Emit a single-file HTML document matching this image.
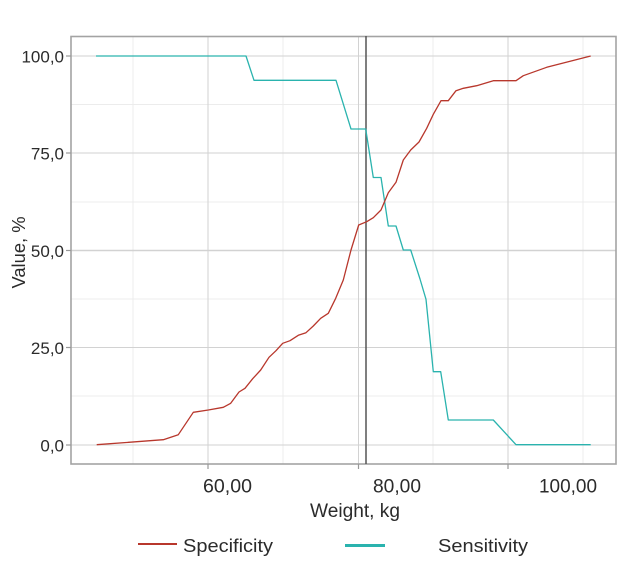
<!DOCTYPE html>
<html>
<head>
<meta charset="utf-8">
<style>
  html, body { margin: 0; padding: 0; background: #ffffff; }
  body { width: 644px; height: 570px; overflow: hidden; }
  svg { display: block; font-family: "Liberation Sans", Arial, sans-serif; }
</style>
</head>
<body>
<svg width="644" height="570" viewBox="0 0 644 570" xmlns="http://www.w3.org/2000/svg">
  <rect x="0" y="0" width="644" height="570" fill="#ffffff"/>

  <!-- minor horizontal gridlines -->
  <g stroke="#ececec" stroke-width="1">
    <line x1="71" y1="104.5" x2="616" y2="104.5"/>
    <line x1="71" y1="202" x2="616" y2="202"/>
    <line x1="71" y1="299" x2="616" y2="299"/>
    <line x1="71" y1="396" x2="616" y2="396"/>
  </g>
  <!-- minor vertical gridlines -->
  <g stroke="#ececec" stroke-width="1">
    <line x1="133" y1="36" x2="133" y2="464"/>
    <line x1="283" y1="36" x2="283" y2="464"/>
    <line x1="433" y1="36" x2="433" y2="464"/>
    <line x1="583" y1="36" x2="583" y2="464"/>
  </g>
  <!-- major gridlines -->
  <g stroke="#d2d2d2" stroke-width="1">
    <line x1="71" y1="56" x2="616" y2="56"/>
    <line x1="71" y1="153" x2="616" y2="153"/>
    <line x1="71" y1="250.5" x2="616" y2="250.5" stroke-width="1.6"/>
    <line x1="71" y1="347.5" x2="616" y2="347.5"/>
    <line x1="71" y1="445" x2="616" y2="445"/>
    <line x1="208" y1="36" x2="208" y2="464"/>
    <line x1="358.5" y1="36" x2="358.5" y2="464"/>
    <line x1="508" y1="36" x2="508" y2="464"/>
  </g>

  <!-- frame -->
  <rect x="71" y="36.5" width="545" height="427.5" fill="none" stroke="#a3a3a3" stroke-width="1.6"/>

  <!-- ticks -->
  <g stroke="#999" stroke-width="1.2">
    <line x1="66" y1="56" x2="71" y2="56"/>
    <line x1="66" y1="153" x2="71" y2="153"/>
    <line x1="66" y1="250.5" x2="71" y2="250.5"/>
    <line x1="66" y1="347.5" x2="71" y2="347.5"/>
    <line x1="66" y1="445" x2="71" y2="445"/>
    <line x1="208" y1="464" x2="208" y2="469"/>
    <line x1="358.5" y1="464" x2="358.5" y2="469"/>
    <line x1="508" y1="464" x2="508" y2="469"/>
  </g>

  <!-- threshold line -->
  <line x1="366" y1="36" x2="366" y2="464" stroke="#555555" stroke-width="1.5"/>

  <!-- Sensitivity -->
  <polyline fill="none" stroke="#2ab3ae" stroke-width="1.3" stroke-linejoin="round"
    points="96,56 246,56 254,80.3 336,80.3 351,129 365.7,129 373.3,177.5 381,177.5 388.3,226 396,226 403.3,250 410.7,250 420,279 426,299.3 433.3,371.7 440.7,371.7 448.3,420 493.3,420 516,444.7 590.7,444.7"/>

  <!-- Specificity -->
  <polyline fill="none" stroke="#b8372c" stroke-width="1.3" stroke-linejoin="round"
    points="96.7,444.7 163.3,439.7 178.3,434.7 193.3,412.3 208.3,410 223.3,407.3 230.7,403.3 239,392 245,388.3 252.7,378.7 260.7,370 269,357.3 276,350.7 282.7,343.3 290,340.7 298.3,335.3 306,332.7 313.3,326 320.7,318.3 328.3,313.3 335.7,298.3 343.3,280 351,250 358.7,225 366.7,221.7 373.3,217.7 381,210 388.3,192.7 396,182.3 403.3,160 410.7,150 419,142 426.7,128.3 433.3,114.3 441,100.7 448.3,100.7 456,90.7 463.3,88.3 476.7,85.7 493.3,80.7 516,80.7 523.3,75.7 546.7,67.3 590.7,56"/>

  <!-- Y tick labels -->
  <g fill="#2b2b2b" font-size="17" text-anchor="end">
    <text x="64" y="62.5">100,0</text>
    <text x="64" y="159.5">75,0</text>
    <text x="64" y="257">50,0</text>
    <text x="64" y="354">25,0</text>
    <text x="64" y="451.5">0,0</text>
  </g>

  <!-- X tick labels -->
  <g fill="#2b2b2b" font-size="19.5">
    <text x="203" y="492.5" textLength="49" lengthAdjust="spacingAndGlyphs">60,00</text>
    <text x="373" y="492.5" textLength="48" lengthAdjust="spacingAndGlyphs">80,00</text>
    <text x="539" y="492.5" textLength="58" lengthAdjust="spacingAndGlyphs">100,00</text>
  </g>

  <!-- Axis titles -->
  <text x="310" y="517" fill="#2b2b2b" font-size="19" textLength="90" lengthAdjust="spacingAndGlyphs">Weight, kg</text>
  <text transform="translate(25,288.5) rotate(-90)" fill="#2b2b2b" font-size="18.5" textLength="72" lengthAdjust="spacingAndGlyphs">Value, %</text>

  <!-- Legend -->
  <line x1="138" y1="544" x2="177" y2="544" stroke="#b8372c" stroke-width="2"/>
  <text x="183" y="552" fill="#2b2b2b" font-size="18.5" textLength="90" lengthAdjust="spacingAndGlyphs">Specificity</text>
  <line x1="345" y1="545.5" x2="385" y2="545.5" stroke="#2ab3ae" stroke-width="3"/>
  <text x="438" y="552" fill="#2b2b2b" font-size="18.5" textLength="90" lengthAdjust="spacingAndGlyphs">Sensitivity</text>
</svg>
</body>
</html>
